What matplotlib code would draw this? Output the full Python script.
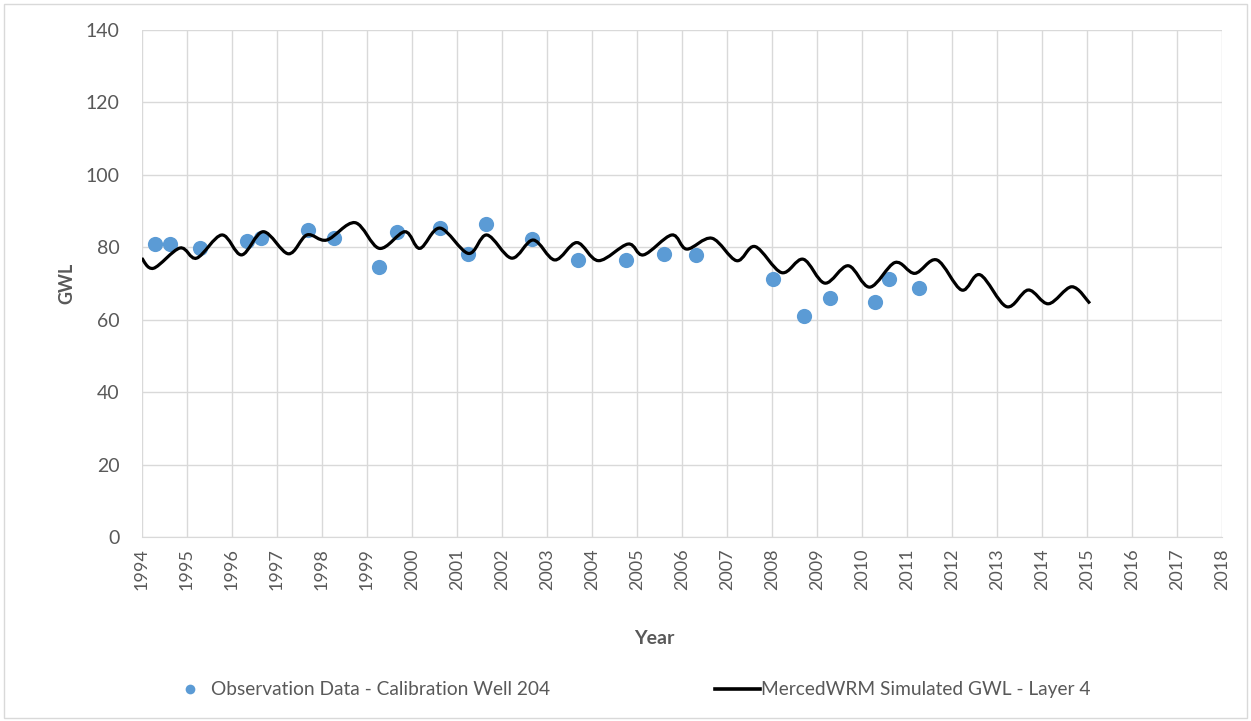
import numpy as np
import matplotlib.pyplot as plt
from matplotlib.path import Path
from matplotlib.patches import PathPatch, Rectangle
from matplotlib.lines import Line2D

plt.rcParams['font.family'] = ['Lato', 'DejaVu Sans']

# Observation data - calibration well 204 (decimal year, GWL)
obs_year = [1994.30, 1994.63, 1995.30, 1996.33, 1996.65, 1997.70, 1998.27,
            1999.27, 1999.67, 2000.63, 2001.26, 2001.65, 2002.67, 2003.69,
            2004.76, 2005.61, 2006.31, 2008.02, 2008.72, 2009.30, 2010.30,
            2010.61, 2011.28]
obs_gwl = [80.9, 80.9, 79.8, 81.8, 82.7, 84.8, 82.7,
           74.6, 84.2, 85.3, 78.2, 86.4, 82.2, 76.5,
           76.5, 78.2, 77.9, 71.3, 61.0, 65.9, 65.0,
           71.3, 68.7]

# Simulated GWL - layer 4 (turning points)
sim_year = [1994.00, 1994.26, 1994.85, 1995.22, 1995.78, 1996.22, 1996.70,
            1997.26, 1997.67, 1998.11, 1998.74, 1999.28, 1999.85, 2000.18,
            2000.63, 2001.26, 2001.67, 2002.22, 2002.70, 2003.18, 2003.67,
            2004.15, 2004.81, 2005.15, 2005.78, 2006.11, 2006.67, 2007.22,
            2007.63, 2008.22, 2008.70, 2009.18, 2009.70, 2010.18, 2010.74,
            2011.18, 2011.67, 2012.22, 2012.63, 2013.22, 2013.70, 2014.15,
            2014.67, 2015.07]
sim_gwl = [77.0, 74.2, 79.8, 77.0, 83.4, 77.9, 84.3,
           78.2, 83.4, 82.0, 86.8, 79.7, 84.3, 79.7,
           85.3, 78.3, 83.4, 77.0, 82.0, 76.5, 81.3,
           76.3, 80.9, 77.9, 83.4, 79.5, 82.5, 76.3,
           80.2, 73.0, 76.7, 70.1, 74.9, 69.0, 75.8,
           72.8, 76.5, 68.2, 72.4, 63.6, 68.2, 64.4,
           69.1, 64.5]

years = list(range(1994, 2019))
yticks = list(range(0, 141, 20))


def smooth_path(xs, ys, t=1/6):
    # Excel-like smoothed line: bezier segments through every point
    xs = np.asarray(xs)
    ys = np.asarray(ys)
    verts = [(xs[0], ys[0])]
    codes = [Path.MOVETO]
    n = len(xs)
    for i in range(n - 1):
        i0 = max(i - 1, 0)
        i3 = min(i + 2, n - 1)
        c1 = (xs[i] + (xs[i + 1] - xs[i0]) * t, ys[i] + (ys[i + 1] - ys[i0]) * t)
        c2 = (xs[i + 1] - (xs[i3] - xs[i]) * t, ys[i + 1] - (ys[i3] - ys[i]) * t)
        verts += [c1, c2, (xs[i + 1], ys[i + 1])]
        codes += [Path.CURVE4] * 3
    return Path(verts, codes)


fig = plt.figure(figsize=(12.51, 7.21), dpi=100)
ax = fig.add_axes([0.1133, 0.2552, 0.8633, 0.7032])

grid_c = '#D9D9D9'
txt_c = '#595959'

ax.set_xlim(1994, 2018)
ax.set_ylim(0, 140)
ax.set_xticks(years)
ax.set_xticklabels([str(y) for y in years], rotation=90)
ax.set_yticks(yticks)
ax.grid(True, color=grid_c, linewidth=1)
ax.set_axisbelow(True)
for s in ['top', 'right', 'left']:
    ax.spines[s].set_visible(False)
ax.spines['bottom'].set_color(grid_c)
ax.tick_params(length=0, colors=txt_c)
ax.tick_params(axis='x', labelsize=13, pad=8)
ax.tick_params(axis='y', labelsize=14, pad=16)

ax.scatter(obs_year, obs_gwl, s=120, color='#5B9BD5', zorder=3, linewidths=0)
ax.add_patch(PathPatch(smooth_path(sim_year, sim_gwl), facecolor='none',
                       edgecolor='black', linewidth=2.3, zorder=4,
                       transform=ax.transData))

ax.set_xlabel('Year', fontsize=14, fontweight='bold', color=txt_c)
ax.xaxis.set_label_coords(0.475, -0.183)
ax.set_ylabel('GWL', fontsize=13, fontweight='bold', color=txt_c, labelpad=7)

h1 = Line2D([], [], linestyle='none', marker='o', markersize=7,
            markerfacecolor='#5B9BD5', markeredgewidth=0)
h2 = Line2D([], [], color='black', linewidth=2.6)
fig.legend([h1], ['Observation Data - Calibration Well 204'],
           loc='center left', bbox_to_anchor=(0.1439, 0.043), frameon=False,
           fontsize=13.8, labelcolor=txt_c, handlelength=1.0,
           handletextpad=0.6, borderpad=0, borderaxespad=0)
fig.legend([h2], ['MercedWRM Simulated GWL - Layer 4'],
           loc='center left', bbox_to_anchor=(0.5715, 0.043), frameon=False,
           fontsize=13.8, labelcolor=txt_c, handlelength=2.35,
           handletextpad=0.05, borderpad=0, borderaxespad=0)

fig.add_artist(Rectangle((0.003, 0.004), 0.994, 0.99, transform=fig.transFigure,
                         fill=False, edgecolor='#D9D9D9', linewidth=1))

fig.savefig('out.png', dpi=100)
